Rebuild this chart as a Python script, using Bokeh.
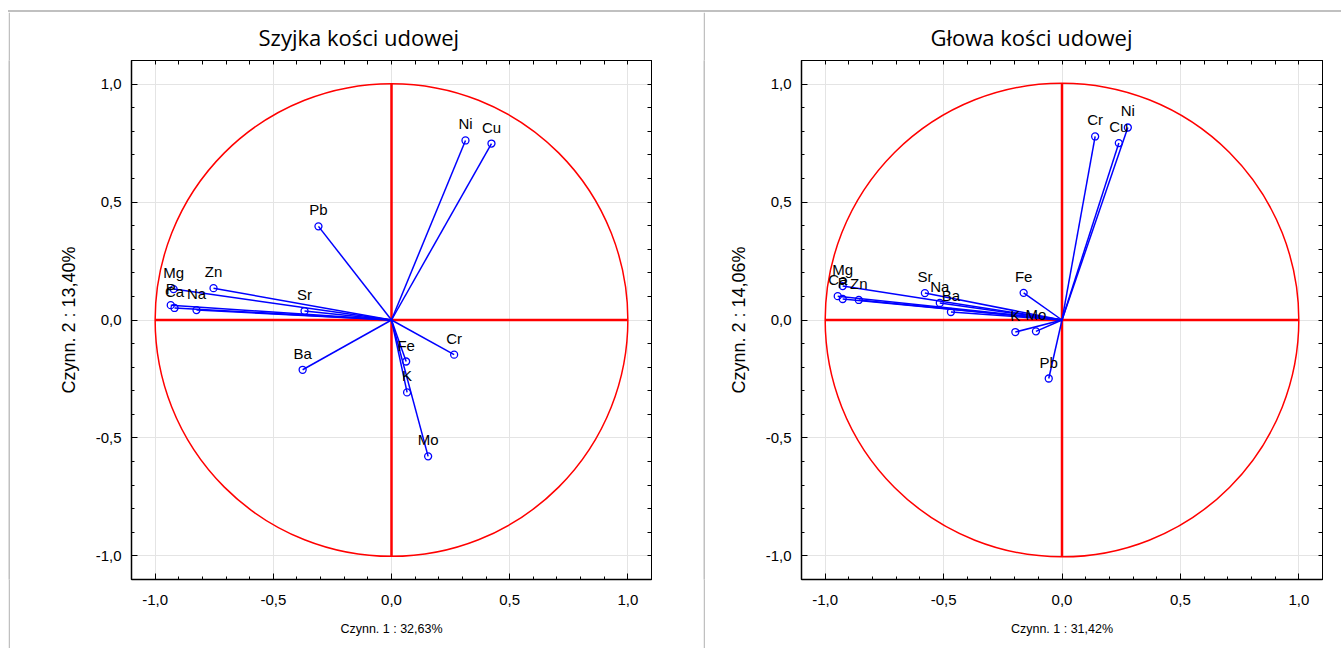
from bokeh.plotting import figure
from bokeh.models import (FixedTicker, CustomJSTickFormatter, LinearAxis, ColumnDataSource,
                          Range1d, Spacer, Div)
from bokeh.layouts import row, column
from bokeh.embed import file_html
from bokeh.resources import INLINE
from bokeh.core.properties import value

# ---------------- data ----------------
left_title = "Szyjka kości udowej"
left_xlabel = "Czynn. 1 : 32,63%"
left_ylabel = "Czynn. 2 : 13,40%"
left_vars = ["Ni", "Cu", "Pb", "Mg", "Zn", "P", "Ca", "Na", "Sr", "Ba", "Fe", "K", "Mo", "Cr"]
left_f1 = [0.313, 0.423, -0.309, -0.922, -0.753, -0.934, -0.918, -0.825, -0.368, -0.376, 0.062, 0.066, 0.155, 0.265]
left_f2 = [0.761, 0.748, 0.397, 0.131, 0.135, 0.063, 0.051, 0.042, 0.038, -0.211, -0.176, -0.307, -0.578, -0.147]

right_title = "Głowa kości udowej"
right_xlabel = "Czynn. 1 : 31,42%"
right_ylabel = "Czynn. 2 : 14,06%"
right_vars = ["Mg", "Ca", "P", "Zn", "Sr", "Na", "Ba", "Fe", "K", "Mo", "Pb", "Cr", "Cu", "Ni"]
right_f1 = [-0.926, -0.947, -0.926, -0.858, -0.579, -0.516, -0.469, -0.162, -0.197, -0.110, -0.056, 0.140, 0.240, 0.278]
right_f2 = [0.144, 0.101, 0.089, 0.085, 0.114, 0.072, 0.034, 0.115, -0.051, -0.048, -0.248, 0.778, 0.750, 0.816]

major_ticks = [-1.0, -0.5, 0.0, 0.5, 1.0]
minor_ticks = [round(-1.1 + 0.1 * i, 2) for i in range(23)]
axis_lim = 1.1
unit_radius = 1.0

FONT = "Liberation Sans"
GRAY = "#c0c0c0"
PANEL_H = 636


def gray_strip(w, h):
    s = figure(width=w, height=h, output_backend="svg", toolbar_location=None,
               min_border=0, x_range=Range1d(0, 1), y_range=Range1d(0, 1))
    s.axis.visible = False
    s.grid.visible = False
    s.outline_line_color = None
    s.background_fill_color = GRAY
    s.border_fill_color = GRAY
    return s


def make_panel(title, xlabel, ylabel, names, f1, f2, width, mb_left, mb_right, title_offset):
    p = figure(width=width, height=PANEL_H, output_backend="svg", toolbar_location=None,
               x_range=Range1d(-axis_lim, axis_lim), y_range=Range1d(-axis_lim, axis_lim),
               min_border_left=mb_left, min_border_right=mb_right,
               min_border_top=47, min_border_bottom=69)
    p.title.text = title
    p.title.align = "left"
    p.title.offset = title_offset
    p.title.vertical_align = "middle"
    p.title.text_font = "Open Sans"
    p.title.text_font_size = "22px"
    p.title.text_font_style = "normal"
    p.title.text_color = "#000000"
    p.title.standoff = 16

    p.outline_line_color = "black"
    p.outline_line_width = 1
    p.background_fill_color = "white"
    p.border_fill_color = "white"

    fmt = CustomJSTickFormatter(code="return tick.toFixed(1).replace('.', ',');")
    for ax in (p.xaxis[0], p.yaxis[0]):
        ax.ticker = FixedTicker(ticks=major_ticks, minor_ticks=minor_ticks)
        ax.formatter = fmt
        ax.major_tick_in = 6
        ax.major_tick_out = 0
        ax.minor_tick_in = 3
        ax.minor_tick_out = 0
        ax.axis_line_color = "black"
        ax.axis_line_width = 1.5
        ax.major_tick_line_color = "black"
        ax.minor_tick_line_color = "black"
        ax.major_label_text_font = FONT
        ax.major_label_text_font_size = "15px"
        ax.major_label_text_color = "#000000"
        ax.axis_label_text_font_style = "normal"
        ax.axis_label_text_color = "#000000"
        ax.axis_label_text_font = FONT
    p.xaxis[0].axis_label = xlabel
    p.xaxis[0].axis_label_text_font_size = "12.5px"
    p.yaxis[0].axis_label = ylabel
    p.yaxis[0].axis_label_text_font_size = "18px"
    p.xaxis[0].major_label_standoff = 15
    p.xaxis[0].axis_label_standoff = 14
    p.yaxis[0].major_label_standoff = 10
    p.yaxis[0].axis_label_standoff = 14

    # tick marks on the top and right frame edges (no labels)
    for loc in ("above", "right"):
        ax = LinearAxis(ticker=FixedTicker(ticks=[], minor_ticks=minor_ticks),
                        minor_tick_in=4, minor_tick_out=0, major_tick_in=0, major_tick_out=0,
                        axis_line_color="black", minor_tick_line_color="black")
        p.add_layout(ax, loc)

    for g in (p.xgrid[0], p.ygrid[0]):
        g.ticker = FixedTicker(ticks=major_ticks)
        g.grid_line_color = "#e4e4e4"
        g.grid_line_width = 1

    # red reference circle and cross
    p.circle(x=[0], y=[0], radius=unit_radius, fill_color=None, line_color="#ff0000", line_width=1.5)
    p.segment(x0=[-unit_radius, 0], y0=[0, -unit_radius], x1=[unit_radius, 0], y1=[0, unit_radius],
              line_color="#ff0000", line_width=2.5)

    src = ColumnDataSource(dict(x=f1, y=f2, name=names, x0=[0] * len(f1), y0=[0] * len(f1)))
    p.segment(x0="x0", y0="y0", x1="x", y1="y", source=src, line_color="#0000ff", line_width=1.5)
    p.scatter(x="x", y="y", source=src, size=7, marker="circle", fill_color=None,
              line_color="#0000ff", line_width=1.3)
    p.text(x="x", y="y", text="name", source=src, text_align="center", text_baseline="bottom",
           y_offset=-8, text_font=value(FONT), text_font_size="15px", text_color="#000000")
    return p


left = make_panel(left_title, left_xlabel, left_ylabel, left_vars, left_f1, left_f2,
                  693, 121, 52, 127)
right = make_panel(right_title, right_xlabel, right_ylabel, right_vars, right_f1, right_f2,
                   636, 96, 19, 129)

top_line = Div(text="", width=1333, height=2, margin=0,
               styles={"background-color": GRAY, "padding": "0", "margin": "0"})
body = row(gray_strip(2, PANEL_H), left, gray_strip(2, PANEL_H), right, spacing=0)
boxed = column(top_line, body, spacing=0)
layout = column(Spacer(width=1341, height=10, margin=0),
                row(Spacer(width=8, height=638, margin=0), boxed, spacing=0),
                spacing=0)
open("out.html", "w").write(file_html(layout, INLINE))
